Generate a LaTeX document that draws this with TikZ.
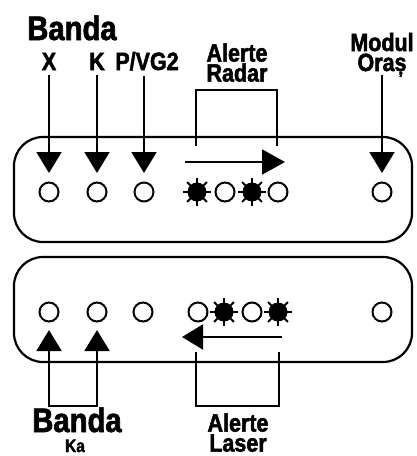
\documentclass[tikz,border=0pt]{standalone}
\usepackage{fontspec}
\newfontfamily\lblfont[FakeStretch=0.86,FakeBold=2]{Liberation Sans}
\usetikzlibrary{arrows.meta}

\begin{document}
\begin{tikzpicture}
[x=1pt,y=-1pt,
  panel/.style={draw,line width=2.2pt,rounded corners=29pt},%
  ledoff/.style={shape=circle,draw,line width=2pt,minimum size=19pt,inner sep=0pt},%
  ledon/.style={shape=circle,fill,minimum size=19pt,inner sep=0pt},%
  arrowdecorate/.style={-{Triangle[length=21pt,width=25pt]},line width=2pt},%
  linedecorate/.style={line width=2pt,line cap=rect},%
  bigtext/.style={font=\lblfont\bfseries\fontsize{34}{34}\selectfont,anchor=base,inner sep=0pt},%
  smalltext/.style={font=\lblfont\bfseries\fontsize{25}{20}\selectfont,anchor=base,inner sep=0pt},%
  stacktext/.style={font=\lblfont\bfseries\fontsize{25}{20}\selectfont,anchor=south,inner sep=0pt,align=center},%
  tinytext/.style={font=\lblfont\bfseries\fontsize{18}{18}\selectfont,anchor=base,inner sep=0pt}]
\useasboundingbox (0,0) rectangle (417,456);
%% panels
\draw[panel] (14,137) rectangle (412,242);
\draw[panel] (14,257) rectangle (412,362);
%% leds
\foreach \ledname/\x/\y/\kind in {x/49/192/ledoff, k/97/192/ledoff,
  p/144/192/ledoff, r1/197/192/ledon, r2/225/192/ledoff, r3/252/192/ledon,
  r4/278/192/ledoff, city/382/192/ledoff, ka1/49/312/ledoff,
  ka2/97/312/ledoff, b3/143/312/ledoff, l1/198/312/ledoff, l2/224/312/ledon,
  l3/252/312/ledoff, l4/278/312/ledon, b8/382/312/ledoff}
{
  \node (\ledname) at (\x,\y) [\kind] {};
}
\foreach \sun in {r1,r3,l2,l4}
  \foreach \a in {0,45,...,315}
    \draw[line width=1.8pt] (\sun.center) ++(\a:8) -- ++(\a:6);
%% labels
\node (bandatop) [bigtext] at (72,40) {Banda};
\node (xlabel) [smalltext] at (49,70) {X};
\node (klabel) [smalltext] at (97,70) {K};
\node (plabel) [smalltext] at (147,70) {P/VG2};
\node (radarlabel) [stacktext] at (237,82) {Alerte\\Radar};
\node (citylabel) [stacktext] at (382,77) {Modul\\Oraș};
\node (bandabot) [bigtext] at (77,432) {Banda};
\node (kalabel) [tinytext] at (75,452) {Ka};
\node (laserlabel) [stacktext] at (238,452) {Alerte\\Laser};
%% arrows down to the band leds
\foreach \lbl/\led/\gap in {xlabel/x/5, klabel/k/5, plabel/p/5, citylabel/city/-2}
{
  \draw[arrowdecorate,shorten <=\gap pt,shorten >=8.5pt]
    (\led.north |- \lbl.south) -- (\led.north);
}
%% radar bracket and sweep
\coordinate (radarleft) at (196,90);
\coordinate (radarright) at (277,90);
\draw[linedecorate] (196,145) -- (radarleft) -- (radarright) -- (277,145);
\coordinate (sweepstart) at (185,162);
\coordinate (sweepend) at (285,162);
\draw[-{Triangle[length=23pt,width=25pt]},line width=2pt] (sweepstart) -- (sweepend);
%% ka band
\coordinate (kaleft) at (49,406);
\coordinate (karight) at (97,406);
\draw[linedecorate] (kaleft) -- (karight);
\draw[arrowdecorate,shorten >=7.5pt] (kaleft) -- (ka1.south);
\draw[arrowdecorate,shorten >=7.5pt] (karight) -- (ka2.south);
%% laser bracket and sweep
\coordinate (laserleft) at (196,406);
\coordinate (laserright) at (279,406);
\draw[linedecorate] (196,353) -- (laserleft) -- (laserright) -- (279,353);
\coordinate (backstart) at (282,337);
\coordinate (backend) at (182,337);
\draw[-{Triangle[length=21pt,width=25pt]},line width=2pt] (backstart) -- (backend);
\end{tikzpicture}
\end{document}
